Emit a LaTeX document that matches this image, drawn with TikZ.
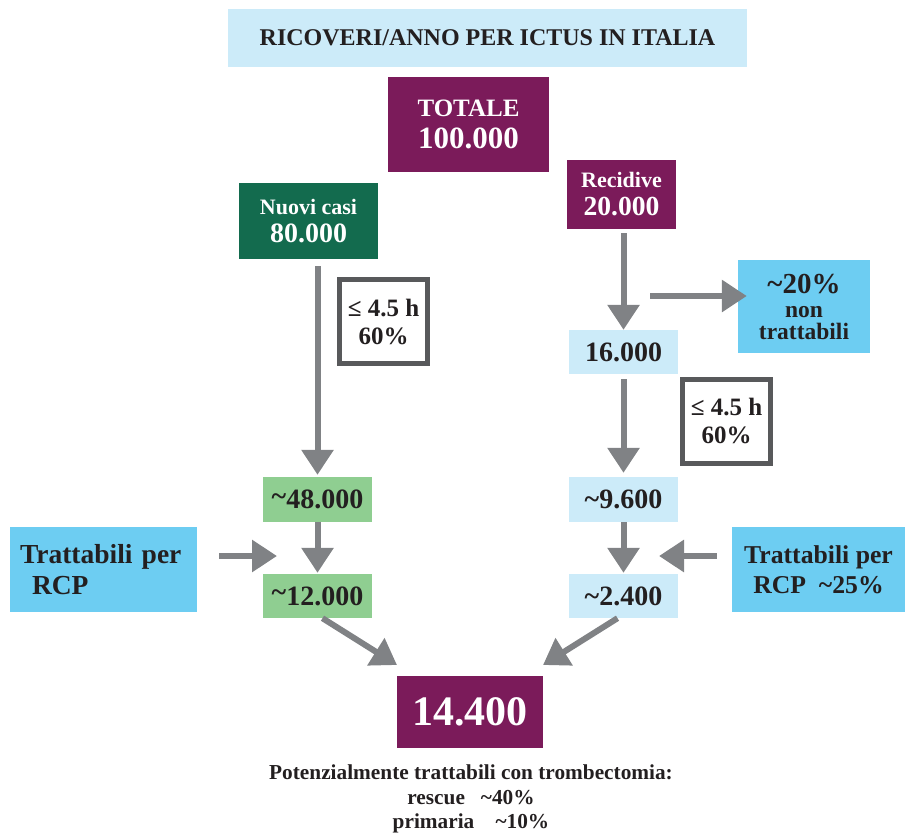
\documentclass[tikz,border=0pt]{standalone}
\usepackage{fontspec}
\setmainfont{Liberation Serif}
\usetikzlibrary{arrows.meta,calc}
\definecolor{lblue}{HTML}{CCEBF9}
\definecolor{cyanb}{HTML}{6DCDF2}
\definecolor{purp}{HTML}{7B1B5A}
\definecolor{dgreen}{HTML}{136B4E}
\definecolor{lgreen}{HTML}{8FCE91}
\definecolor{agray}{HTML}{808285}
\definecolor{bgray}{HTML}{58595B}
\definecolor{txt}{HTML}{231F20}
\newcommand\fsz[2]{\fontsize{#1}{#2}\selectfont}
\newcommand\tld{\textasciitilde}
\begin{document}
\begin{tikzpicture}[x=1pt,y=-1pt,
  box/.style={rectangle, inner sep=0pt, align=center, text=txt,
    font=\bfseries},
  darkbox/.style={box, text=white},
  timebox/.style={box, draw=bgray, line width=5pt, fill=white,
    minimum width=88pt, minimum height=84pt, font=\bfseries\fsz{25}{28}},
  arr/.style={draw=agray, line width=6pt,
    -{Triangle[width=31pt,length=25pt]}}]
\useasboundingbox (0,0) rectangle (909,835);

% title
\node[box, fill=lblue, minimum width=519pt, minimum height=58pt,
  font=\bfseries\fsz{24}{26}] (title) at (487.5,38) {RICOVERI/ANNO PER ICTUS IN ITALIA};

% top boxes
\node[darkbox, fill=purp, minimum width=161pt, minimum height=95pt,
  font=\bfseries\fsz{25}{32}] (tot) at (468.5,124.5)
  {TOTALE\\\fsz{31}{32}100.000};
\node[darkbox, fill=purp, minimum width=109pt, minimum height=69pt,
  font=\bfseries\fsz{22}{28}] (rec) at (621.5,194.5)
  {Recidive\\\fsz{27.6}{28}20.000};
\node[darkbox, fill=dgreen, minimum width=139pt, minimum height=76pt,
  font=\bfseries\fsz{22}{28}] (nuovi) at (308.5,221)
  {Nuovi casi\\\fsz{28}{28}80.000};

% time boxes
\node[timebox] (tl) at (383.5,321.5) {≤ 4.5 h\\60\%};
\node[timebox] (tr) at (726.5,421) {≤ 4.5 h\\60\%};

% right column
\node[box, fill=lblue, minimum width=109pt, minimum height=44pt,
  font=\bfseries\fsz{28}{28}] (n16) at (623.5,352) {16.000};
\node[box, fill=cyanb, minimum width=132pt, minimum height=93pt,
  font=\bfseries\fsz{23.5}{22}] (nt) at (804,306.5)
  {\fsz{29}{22}\tld 20\%\\[2pt]non\\trattabili};
\node[box, fill=lblue, minimum width=109pt, minimum height=45pt,
  font=\bfseries\fsz{28}{28}] (n96) at (623.5,499.5) {\tld 9.600};
\node[box, fill=lblue, minimum width=109pt, minimum height=44pt,
  font=\bfseries\fsz{28}{28}] (n24) at (623.5,596) {\tld 2.400};
\node[box, fill=cyanb, minimum width=173pt, minimum height=85pt,
  font=\bfseries\fsz{25.7}{30}] (rc) at (818.5,569.5) {Trattabili per\\RCP\ \ \tld 25\%};

% left column
\node[box, fill=lgreen, minimum width=109pt, minimum height=45pt,
  font=\bfseries\fsz{28}{28}] (n48) at (317.5,499.5) {\raisebox{0.25ex}{\tld}48.000};
\node[box, fill=lgreen, minimum width=109pt, minimum height=44pt,
  font=\bfseries\fsz{28}{28}] (n12) at (317.5,596) {\raisebox{0.25ex}{\tld}12.000};
\node[box, fill=cyanb, inner xsep=10pt, text width=167pt, minimum height=85pt,
  font=\bfseries\fsz{27.5}{31}, align=left] (lc) at (103.5,569.5) {Trattabili per\\\hspace*{12pt}RCP};

% result
\node[darkbox, fill=purp, minimum width=146pt, minimum height=72pt,
  font=\bfseries\fsz{42}{42}] (res) at (470,712) {14.400};
\node[box, font=\bfseries\fsz{21.3}{24.5}, anchor=north] (note) at (471,765)
  {Potenzialmente trattabili con trombectomia:\\rescue\ \ \ \tld 40\%\\primaria\ \ \ \ \tld 10\%};

% helper coordinates
\coordinate (hstart) at (650,296);
\coordinate (ltip) at (277,556);
\coordinate (rtip) at (659,556);
\coordinate (dltip) at (397,665);
\coordinate (drtip) at (543,665);

% arrows
\draw[arr, shorten <=7pt, shorten >=2pt] (n48.north |- nuovi.south) -- (n48.north);
\draw[arr, shorten >=1pt] (n48) -- (n12);
\draw[arr, shorten <=4pt] (n16.north |- rec.south) -- (n16.north);
\draw[arr, shorten <=5pt, shorten >=4pt] (n16) -- (n96);
\draw[arr, shorten >=1pt] (n96) -- (n24);
\draw[arr] (hstart) -- ($(hstart -| nt.west)+(9,0)$);
\draw[arr] ($(lc.east |- ltip)+(22,0)$) -- (ltip);
\draw[arr] ($(rc.west |- rtip)+(-15,0)$) -- (rtip);
\draw[arr] ($(n12.south)+(5,0)$) -- (dltip);
\draw[arr] ($(n24.south)+(-6,0)$) -- (drtip);
\end{tikzpicture}
\end{document}
